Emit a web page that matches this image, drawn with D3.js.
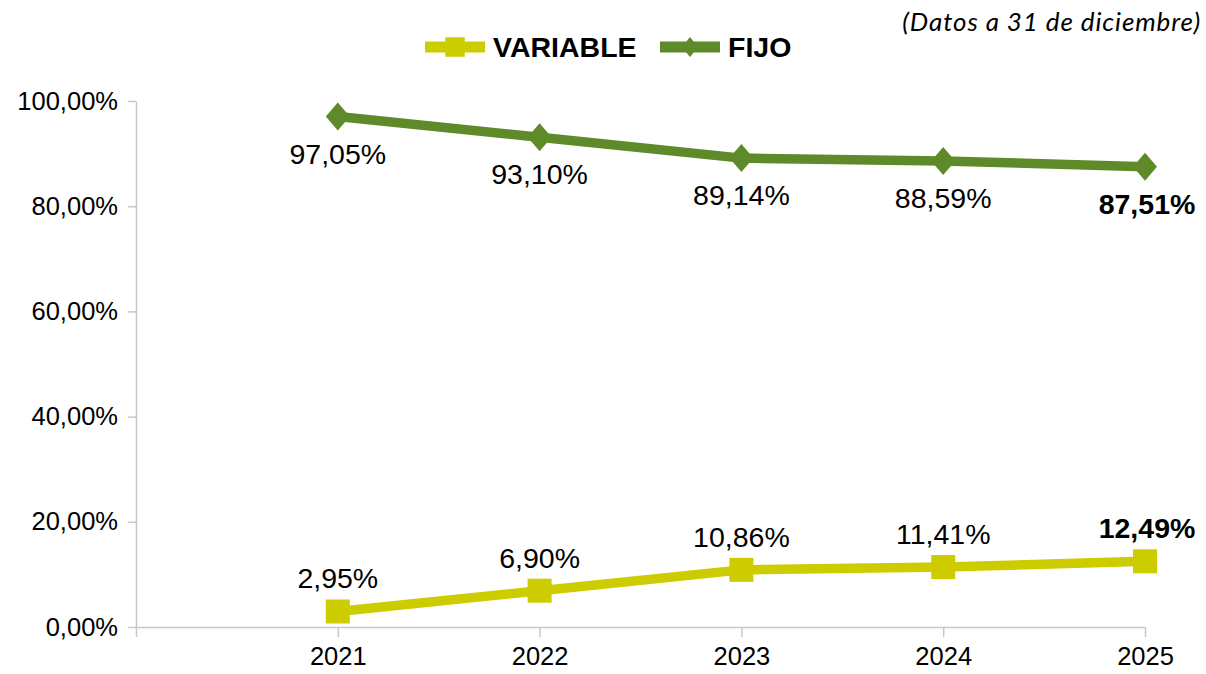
<!DOCTYPE html>
<html><head><meta charset="utf-8">
<script src="https://cdn.jsdelivr.net/npm/d3@7"></script>
<style>body{margin:0;background:#fff}svg{display:block}</style>
</head><body>
<svg id="c" width="1206" height="674"></svg>
<script>
const years = [2021, 2022, 2023, 2024, 2025];
const variable = [2.95, 6.90, 10.86, 11.41, 12.49];
const fijo = [97.05, 93.10, 89.14, 88.59, 87.51];
const yTicks = [0, 20, 40, 60, 80, 100];
const seriesNames = ["VARIABLE", "FIJO"];
const colors = ["#cccc00", "#5e8a2a"];

const svg = d3.select("#c");
const x = d3.scaleLinear().domain([2020, 2025]).range([136, 1145]);
const y = d3.scaleLinear().domain([0, 100]).range([627, 101]);
const fmt = v => v.toFixed(2).replace(".", ",") + "%";
const font = "'Liberation Sans', Arial, sans-serif";

const diamond = (hw, hh) => `M0,${-hh}L${hw},0L0,${hh}L${-hw},0Z`;

// Y axis
const yAxis = svg.append("g").attr("transform", "translate(136,0)")
  .call(d3.axisLeft(y).tickValues(yTicks).tickFormat(fmt).tickSize(8).tickPadding(10).tickSizeOuter(0));
yAxis.select(".domain").attr("stroke", "#c8c8c8").attr("stroke-width", 1.5);
yAxis.selectAll(".tick line").attr("stroke", "#c8c8c8").attr("stroke-width", 1.5);
yAxis.selectAll("text").attr("font-family", font).attr("font-size", 25.5).attr("fill", "#000");

// X axis
const xAxis = svg.append("g").attr("transform", "translate(0,627)")
  .call(d3.axisBottom(x).tickValues([2020, ...years]).tickFormat(d => d === 2020 ? "" : d).tickSize(10).tickPadding(10).tickSizeOuter(0));
xAxis.select(".domain").attr("stroke", "#c8c8c8").attr("stroke-width", 1.5);
xAxis.selectAll(".tick line").attr("stroke", "#c8c8c8").attr("stroke-width", 1.5);
xAxis.selectAll("text").attr("font-family", font).attr("font-size", 25.5).attr("fill", "#000");

const line = d3.line().x((d, i) => x(years[i])).y(d => y(d));

function drawSeries(vals, color, shape, labelDy) {
  svg.append("path").attr("d", line(vals)).attr("fill", "none")
    .attr("stroke", color).attr("stroke-width", 9.5).attr("stroke-linejoin", "round");
  const symPath = shape === "square" ? d3.symbol().type(d3.symbolSquare).size(576)() : diamond(12, 14);
  svg.selectAll(null).data(vals).enter().append("path")
    .attr("d", symPath).attr("fill", color)
    .attr("transform", (d, i) => `translate(${x(years[i])},${y(d)})`);
  svg.selectAll(null).data(vals).enter().append("text")
    .attr("x", (d, i) => x(years[i]) + (i === vals.length - 1 ? 2 : 0))
    .attr("y", d => y(d) + labelDy)
    .attr("text-anchor", "middle")
    .attr("font-family", font).attr("font-size", 28.5)
    .attr("font-weight", (d, i) => i === vals.length - 1 ? "bold" : "normal")
    .attr("fill", "#000")
    .text(fmt);
}
drawSeries(fijo, colors[1], "diamond", 47);
drawSeries(variable, colors[0], "square", -23);

// Legend
const leg = [{x: 425, t: seriesNames[0], c: colors[0], s: "square"}, {x: 660, t: seriesNames[1], c: colors[1], s: "diamond"}];
leg.forEach(l => {
  svg.append("rect").attr("x", l.x).attr("y", 41.5).attr("width", 60).attr("height", 11).attr("fill", l.c);
  const p = l.s === "square" ? d3.symbol().type(d3.symbolSquare).size(380)() : diamond(8, 10);
  svg.append("path").attr("d", p).attr("fill", l.c).attr("transform", `translate(${l.x + 30},47)`);
  svg.append("text").attr("x", l.x + 68).attr("y", 57).attr("font-family", font)
    .attr("font-size", 28.5).attr("font-weight", "bold").attr("fill", "#000").text(l.t);
});

// Note
svg.append("text").attr("x", 1201).attr("y", 31).attr("text-anchor", "end")
  .attr("font-family", "Lato, sans-serif").attr("font-style", "italic").attr("font-size", 26)
  .attr("letter-spacing", 0.9)
  .attr("fill", "#000").text("(Datos a 31 de diciembre)");
</script>
</body></html>
